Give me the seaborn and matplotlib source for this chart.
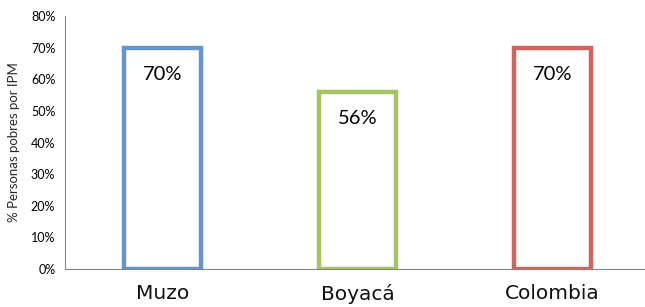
import matplotlib
matplotlib.use('Agg')
import matplotlib.pyplot as plt
import seaborn as sns
import pandas as pd
from matplotlib.ticker import FixedLocator, PercentFormatter

# data
regions = ['Muzo', 'Boyacá', 'Colombia']
pobres_ipm = [0.70, 0.56, 0.70]
labels = ['70%', '56%', '70%']
colores = ['#6595CB', '#A6C463', '#D2645F']

df = pd.DataFrame({'region': regions, 'valor': pobres_ipm})

sns.set_theme(style='white')
plt.rcParams['font.family'] = ['Lato', 'DejaVu Sans']

fig = plt.figure(figsize=(6.45, 3.07), dpi=100)
ax = fig.add_axes([65/645, 38/307, 580/645, 253/307])

sns.barplot(data=df, x='region', y='valor', hue='region', palette=colores,
            fill=False, linewidth=3.2, width=0.39, legend=False, ax=ax)

for i, (v, t) in enumerate(zip(pobres_ipm, labels)):
    ax.text(i, v - 0.085, t, ha='center', va='center', fontsize=14.5, color='black')

ax.set_ylim(0, 0.8)
ax.set_xlim(-0.5, 2.5 - 5/195)
ax.yaxis.set_major_locator(FixedLocator([i/10 for i in range(9)]))
ax.yaxis.set_major_formatter(PercentFormatter(1.0, decimals=0))

ax.xaxis.set_minor_locator(FixedLocator([-0.5, 0.5, 1.5]))
ax.tick_params(axis='x', which='major', length=0, pad=11, colors='#111111')
ax.tick_params(axis='x', which='minor', length=5, width=0.8, color='#868686', direction='out')
ax.tick_params(axis='y', length=4, width=0.8, color='#868686', direction='out', labelsize=9, pad=3)
ax.tick_params(axis='y', labelcolor='black')
for lab in ax.get_xticklabels():
    lab.set_family('DejaVu Sans')
    lab.set_fontsize(14.5)

ax.set_xlabel('')
ax.set_ylabel('% Personas pobres por IPM', fontsize=9.5, labelpad=8)

for s in ['top', 'right']:
    ax.spines[s].set_visible(False)
for s in ['left', 'bottom']:
    ax.spines[s].set_color('#868686')
    ax.spines[s].set_linewidth(0.8)

fig.savefig('out.png', dpi=100)
